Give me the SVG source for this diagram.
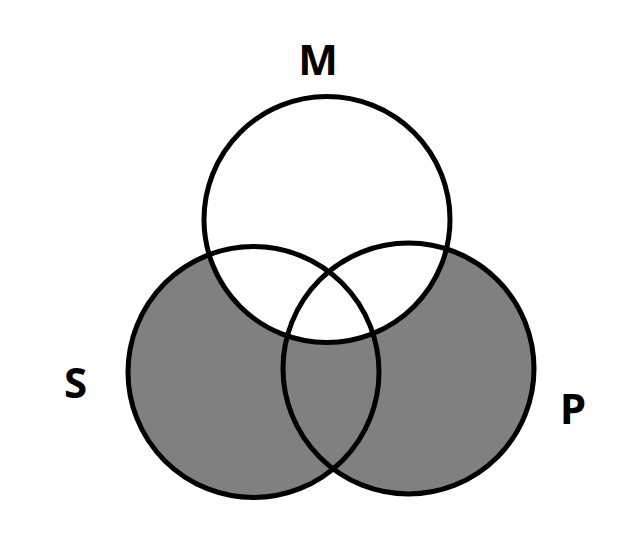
<svg xmlns="http://www.w3.org/2000/svg" width="636" height="557" viewBox="0 0 636 557">
<style>
.ring{fill:none;stroke:#000;stroke-width:5}
.lbl{font-family:"Noto Sans","Liberation Sans",sans-serif;font-weight:bold;font-size:42px;fill:#000;text-anchor:middle}
</style>
<rect width="636" height="557" fill="#fff"/>
<g id="shading">
<circle cx="253.5" cy="372" r="125.5" fill="#808080"/>
<circle cx="408.5" cy="368.5" r="125.5" fill="#808080"/>
<circle cx="327" cy="219.5" r="123" fill="#fff"/>
</g>
<g id="S"><circle class="ring" cx="253.5" cy="372" r="125.5"/><text class="lbl" x="75.5" y="398">S</text></g>
<g id="P"><circle class="ring" cx="408.5" cy="368.5" r="125.5"/><text class="lbl" x="573" y="424">P</text></g>
<g id="M"><circle class="ring" cx="327" cy="219.5" r="123"/><text class="lbl" x="318" y="75">M</text></g>
<g id="connectors"/>
</svg>
